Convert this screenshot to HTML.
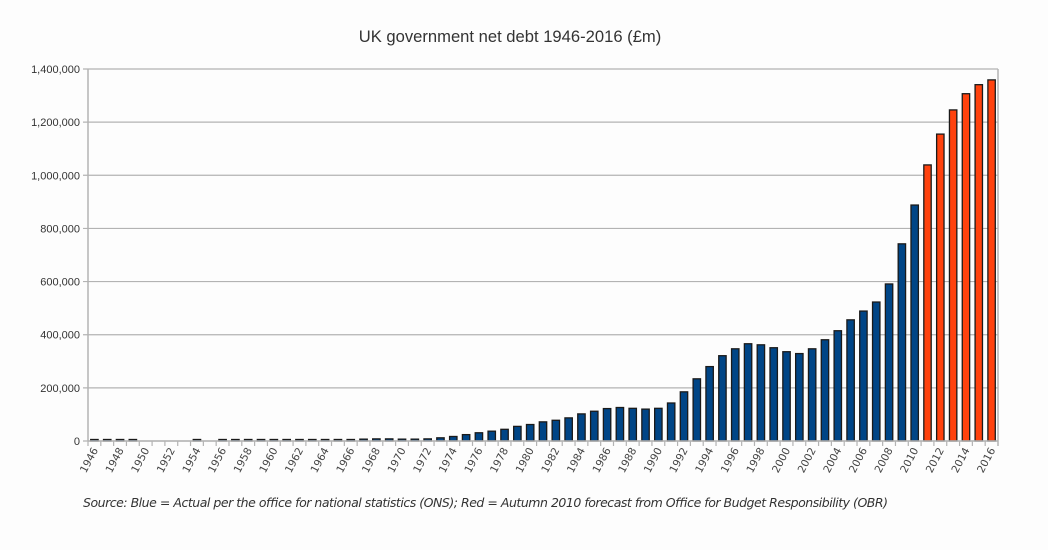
<!DOCTYPE html>
<html><head><meta charset="utf-8">
<style>
html,body{margin:0;padding:0;background:#fdfdfd;}
svg{display:block;font-family:"Liberation Sans",sans-serif;}
</style></head>
<body>
<svg id="chart" width="1048" height="550" viewBox="0 0 1048 550">
<rect width="1048" height="550" fill="#fdfdfd"/>
<text x="510" y="42" text-anchor="middle" font-size="16.6" fill="#333">UK government net debt 1946-2016 (£m)</text>
<g id="grid"></g>
<g id="yaxis"></g>
<g id="bars"></g>
<g id="xaxis"></g>
<text x="83" y="507" font-size="12.5" font-style="italic" fill="#333" textLength="805" lengthAdjust="spacing" style="font-family:'DejaVu Sans',sans-serif">Source: Blue = Actual per the office for national statistics (ONS); Red = Autumn 2010 forecast from Office for Budget Responsibility (OBR)</text>
</svg>
<script>
const years = [];
for (let y = 1946; y <= 2016; y++) years.push(y);
const debtValues = [3,3,3,3,0,0,0,0,3,0,3,3,3,3,3,4,4,4,4,4,5,7,8,8,7,7,8,12,17,24,31,37,44,55,62,72,78,87,102,112,122,126,123,120,123,143,185,234,280,321,347,366,362,351,336,329,347,381,415,456,489,523,591,742,888,1039,1155,1246,1307,1341,1359].map(v=>v*1000);
const forecastFrom = 2011;
const yTicks = [0,200000,400000,600000,800000,1000000,1200000,1400000];
const yTickLabels = ["0","200,000","400,000","600,000","800,000","1,000,000","1,200,000","1,400,000"];

const NS = "http://www.w3.org/2000/svg";
const L = 88, R = 998, T = 69, B = 441, YMAX = 1400000;
const slot = (R - L) / years.length;
const xScale = i => L + slot * (i + 0.5);
const yScale = v => B - (v / YMAX) * (B - T);
function mk(tag, attrs, parent){ const e=document.createElementNS(NS,tag); for(const k in attrs) e.setAttribute(k,attrs[k]); parent.appendChild(e); return e; }

const grid = document.getElementById('grid'), yaxis = document.getElementById('yaxis'), bars = document.getElementById('bars'), xaxis = document.getElementById('xaxis');
yTicks.forEach((t,i)=>{
  const y = yScale(t);
  const gl = mk('line',{x1:L-5,x2:R,y1:y,y2:y,stroke:'#b3b3b3','stroke-width':1.2},grid);
  
  
  const tx = mk('text',{x:L-8,y:y+4,'text-anchor':'end','font-size':11,fill:'#333'},yaxis);
  tx.textContent = yTickLabels[i];
  
  
});
mk('line',{x1:L,x2:L,y1:T,y2:B,stroke:'#b3b3b3','stroke-width':1.5},yaxis);
mk('line',{x1:R,x2:R,y1:T,y2:B+5,stroke:'#b3b3b3','stroke-width':1.5},yaxis);

years.forEach((yr,i)=>{
  const v = debtValues[i];
  const cx = xScale(i);
  if (v > 0){
    const y = yScale(v);
    const h = Math.max(B - y, 1.5);
    const r = mk('rect',{x:cx-3.7,y:B-h,width:7.4,height:h,fill: yr>=forecastFrom ? '#ff420e' : '#004586',stroke:'#1a1a1a','stroke-width':1.3},bars);
    
    
  }
  const tk = mk('line',{x1:L+slot*i,x2:L+slot*i,y1:B,y2:B+5,stroke:'#b3b3b3','stroke-width':1.2},xaxis);
  
  
  if (i % 2 === 0){
    const tx = mk('text',{x:cx+4,y:B+9,'text-anchor':'end','font-size':10.5,fill:'#444',style:"font-family:'DejaVu Sans',sans-serif",transform:`rotate(-62 ${cx+4} ${B+9})`},xaxis);
    tx.textContent = yr;
    
    
  }
});
mk('line',{x1:L,x2:R,y1:B,y2:B,stroke:'#b3b3b3','stroke-width':1.5},xaxis);
</script>
</body></html>
